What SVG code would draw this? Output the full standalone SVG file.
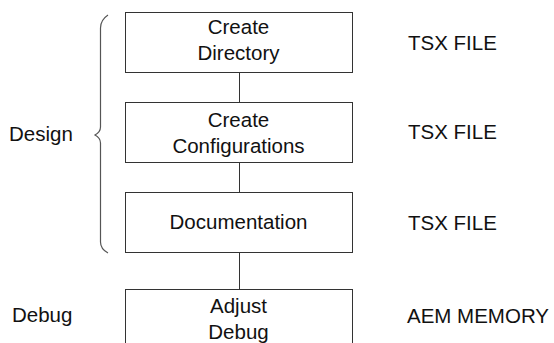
<svg xmlns="http://www.w3.org/2000/svg" width="554" height="343" viewBox="0 0 554 343">
  <style>
    .box { fill: #ffffff; stroke: #333333; stroke-width: 1; }
    .link { stroke: #333333; stroke-width: 1; fill: none; }
    .brace { stroke: #555555; stroke-width: 1.2; fill: none; }
    text { font-family: "Liberation Sans", Arial, sans-serif; font-size: 20.5px; fill: #111111; }
    .c { text-anchor: middle; }
  </style>
  <rect width="554" height="343" fill="#ffffff"/>

  <!-- connectors between the steps -->
  <g id="connectors">
    <line class="link" x1="239.5" y1="72" x2="239.5" y2="102"/>
    <line class="link" x1="239.5" y1="162" x2="239.5" y2="192"/>
    <line class="link" x1="239.5" y1="252" x2="239.5" y2="289"/>
  </g>

  <!-- brace grouping the design steps -->
  <g id="design-brace">
    <path class="brace" d="M108,15 Q100.5,20 100.5,28 L100.5,127 Q100.5,132 95,135 Q100.5,138 100.5,143 L100.5,242 Q100.5,249 108,253"/>
    <text x="9" y="141">Design</text>
  </g>
  <g id="debug-label">
    <text x="12" y="322">Debug</text>
  </g>

  <g id="create-directory">
    <rect class="box" x="125.5" y="12.5" width="227" height="60"/>
    <text class="c" x="238.5" y="34">Create</text>
    <text class="c" x="238.5" y="60">Directory</text>
    <text x="408" y="50">TSX FILE</text>
  </g>

  <g id="create-configurations">
    <rect class="box" x="125.5" y="102.5" width="227" height="60"/>
    <text class="c" x="238.5" y="127">Create</text>
    <text class="c" x="238.5" y="153">Configurations</text>
    <text x="408" y="139">TSX FILE</text>
  </g>

  <g id="documentation">
    <rect class="box" x="125.5" y="192.5" width="227" height="60"/>
    <text class="c" x="238.5" y="229">Documentation</text>
    <text x="408" y="230">TSX FILE</text>
  </g>

  <g id="adjust-debug">
    <rect class="box" x="125.5" y="289.5" width="227" height="70"/>
    <text class="c" x="238.5" y="313">Adjust</text>
    <text class="c" x="238.5" y="339">Debug</text>
    <text x="407" y="323">AEM MEMORY</text>
  </g>
</svg>
